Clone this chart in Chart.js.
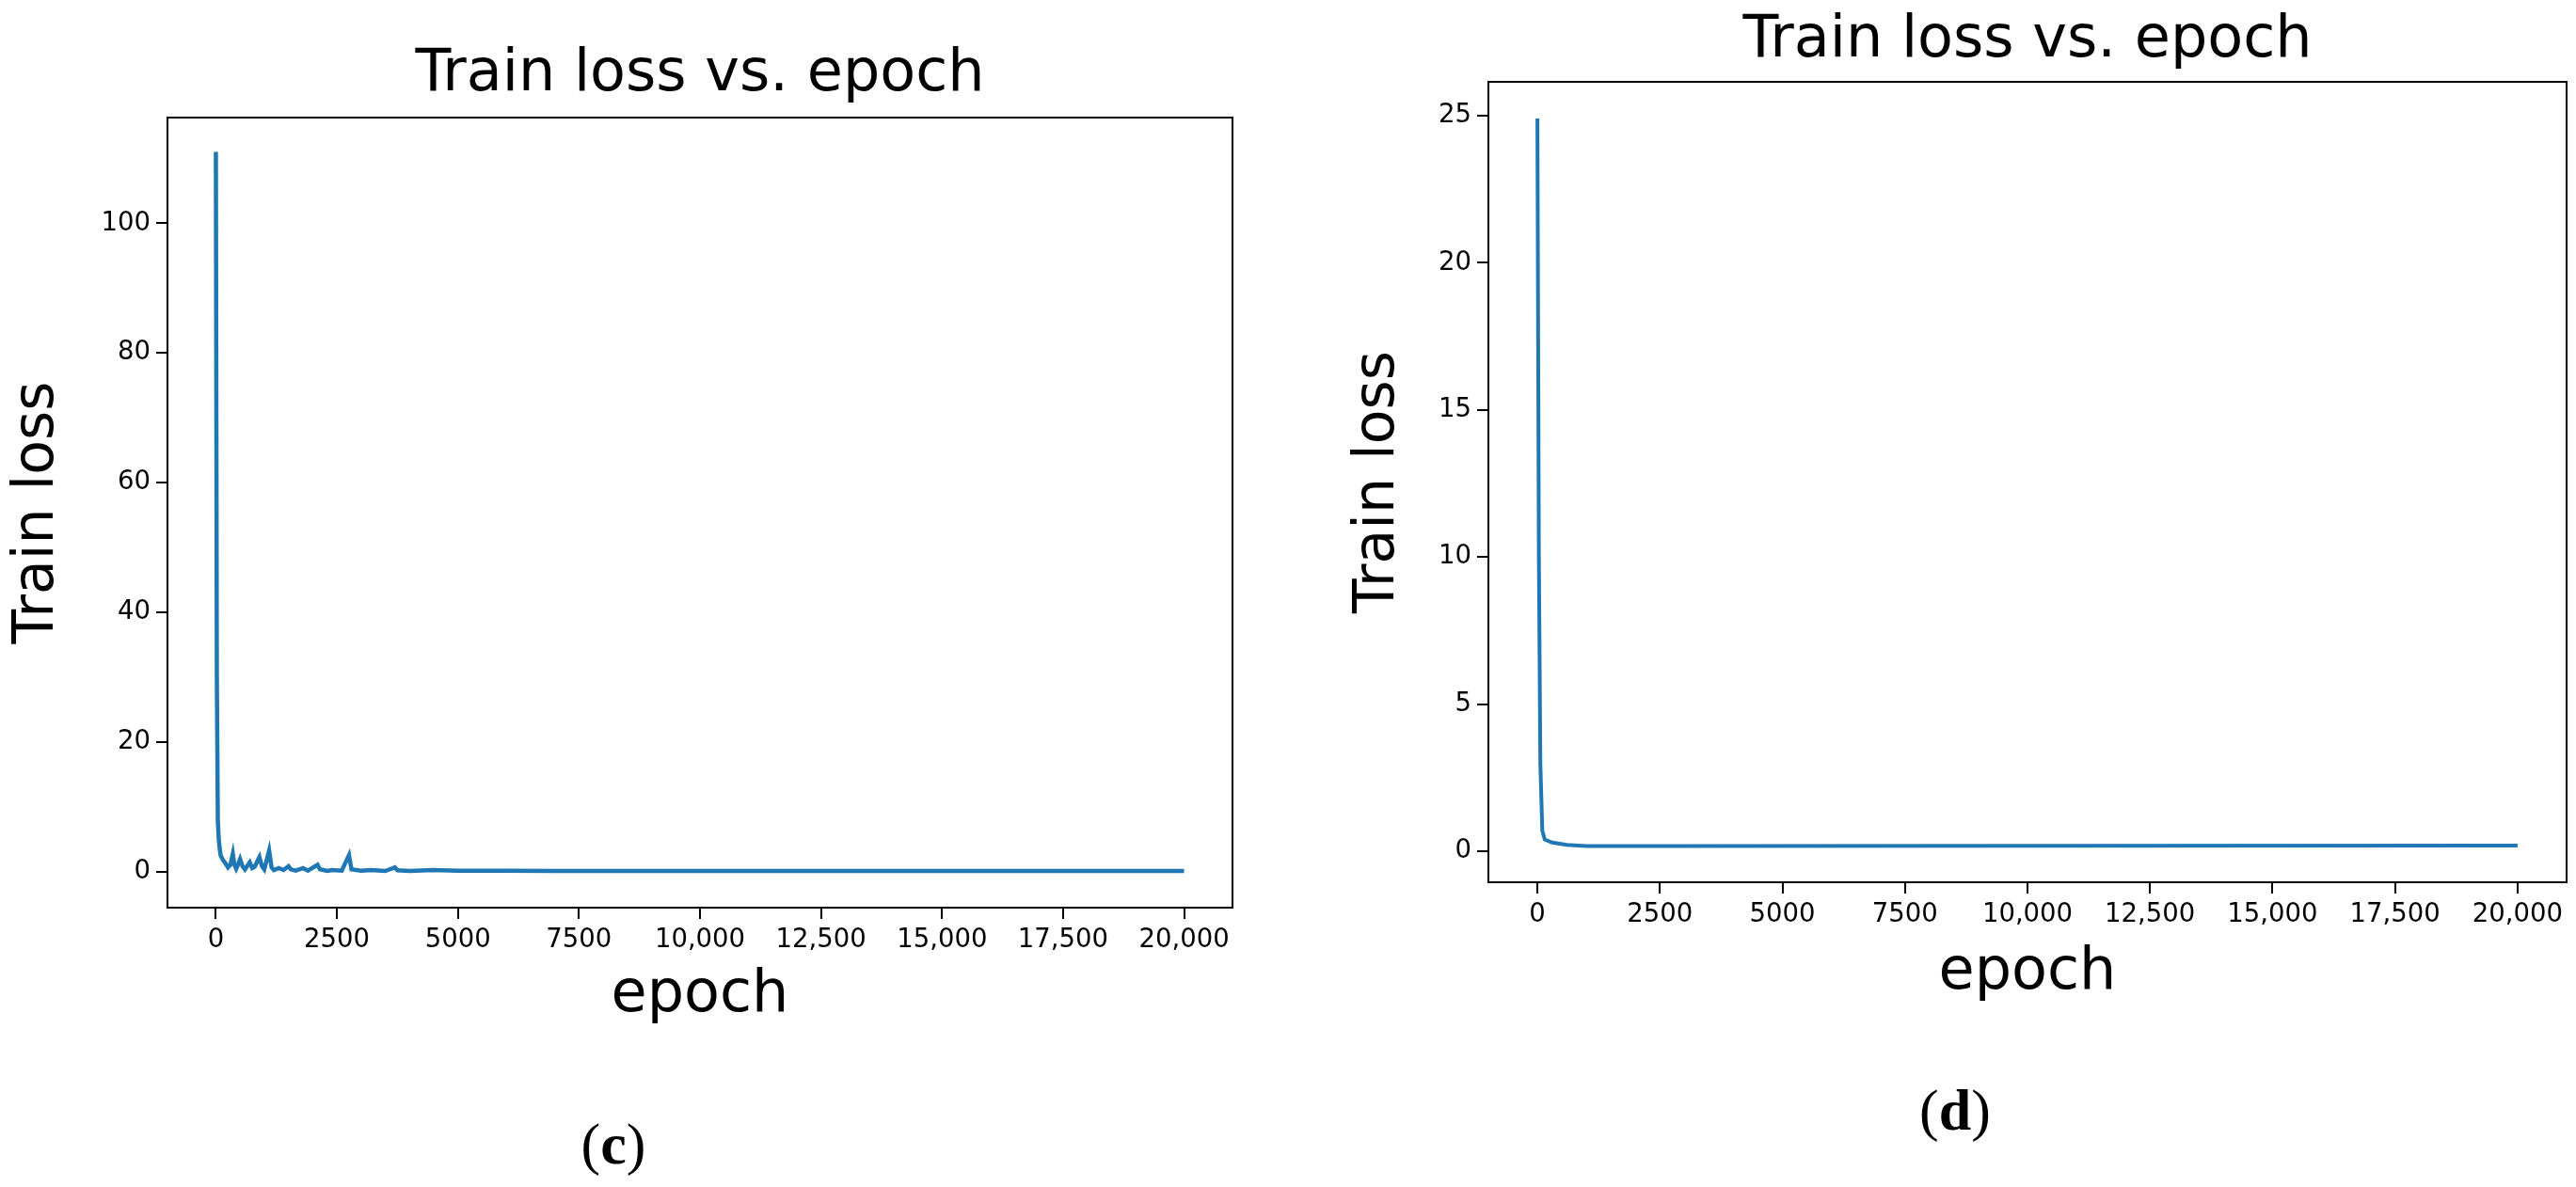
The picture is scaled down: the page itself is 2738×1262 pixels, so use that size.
<!DOCTYPE html>
<html><head><meta charset="utf-8">
<script src="https://cdn.jsdelivr.net/npm/chart.js@4"></script>
<style>
html,body{margin:0;padding:0;background:#fff;width:2738px;height:1262px;overflow:hidden;position:relative}
canvas{position:absolute;top:0}
.lab{position:absolute;font-family:"Liberation Serif","DejaVu Serif",serif;font-size:62px;transform:translate(-50%,-50%);color:#000;white-space:nowrap}
</style></head><body>
<canvas id="c1" width="1369" height="1262" style="left:0"></canvas>
<canvas id="c2" width="1438" height="1262" style="left:1300px"></canvas>
<div class="lab" style="left:652px;top:1216px">(<b>c</b>)</div>
<div class="lab" style="left:2078px;top:1180px">(<b>d</b>)</div>
<script>
const titleText = "Train loss vs. epoch";
const xLabel = "epoch";
const yLabel = "Train loss";
const xTickValues = [0,2500,5000,7500,10000,12500,15000,17500,20000];
const yTicksC = [0,20,40,60,80,100];
const yTicksD = [0,5,10,15,20,25];
const epochsC = [0,20,40,60,80,100,150,200,250,300,350,380,420,450,500,550,600,700,750,800,900,950,1000,1100,1150,1200,1300,1400,1500,1550,1650,1800,1900,2100,2150,2300,2400,2600,2750,2800,3000,3200,3500,3700,3750,4000,4500,5000,6000,7000,8000,12000,16000,20000];
const lossC   = [111,30,8,5,3.5,2.5,1.8,1.3,0.7,1.1,2.8,1.2,0.5,1.0,2.0,0.9,0.4,1.5,0.6,0.8,2.3,0.9,0.4,3.3,0.7,0.3,0.6,0.3,0.9,0.4,0.2,0.6,0.2,1.1,0.4,0.15,0.3,0.2,2.6,0.4,0.2,0.3,0.15,0.7,0.25,0.15,0.3,0.2,0.2,0.15,0.15,0.15,0.15,0.15];
const epochsD = [0,30,60,100,150,300,600,1000,3000,10000,20000];
const lossD   = [24.9,10,3,0.7,0.4,0.3,0.22,0.18,0.18,0.19,0.2];

const fam = '"DejaVu Sans", sans-serif';
const boxPlugin = {id:'box', afterDraw(ch){const a=ch.chartArea,c=ch.ctx;c.save();c.strokeStyle='#000';c.lineWidth=2;c.strokeRect(a.left,a.top,a.right-a.left,a.bottom-a.top);c.restore();}};
function fmt(v){return v>=10000 ? v.toLocaleString('en-US') : String(v);}
function make(id, xs, ys, yTicks, ymin, ymax, o){
  return new Chart(document.getElementById(id), {
    type:'line',
    data:{datasets:[{data:xs.map((x,i)=>({x:x,y:ys[i]})),borderColor:'#1f77b4',borderWidth:o.lw,pointRadius:0,tension:0,fill:false}]},
    plugins:[boxPlugin],
    options:{
      responsive:false, animation:false, devicePixelRatio:1,
      layout:{padding:{top:0,left:0,right:o.right,bottom:o.bottom}},
      plugins:{legend:{display:false},tooltip:{enabled:false},
        title:{display:true,fullSize:false,text:titleText,color:'#000',font:{family:fam,size:62,weight:'normal'},padding:{top:o.tpt,bottom:o.tpb}}},
      scales:{
        x:{type:'linear',min:-1000,max:21000,
          afterBuildTicks(s){s.ticks=xTickValues.map(v=>({value:v}));},
          afterFit(s){s.height=o.xh;},
          grid:{drawOnChartArea:false,drawTicks:true,tickLength:12,color:'#000',lineWidth:2},
          border:{display:false},
          ticks:{color:'#000',font:{family:fam,size:27.5},padding:6,maxRotation:0,autoSkip:false,callback:v=>fmt(v)},
          title:{display:true,text:xLabel,color:'#000',font:{family:fam,size:62},padding:{top:0,bottom:0}}},
        y:{min:ymin,max:ymax,
          afterBuildTicks(s){s.ticks=yTicks.map(v=>({value:v}));},
          afterFit(s){s.width=o.yw;},
          grid:{drawOnChartArea:false,drawTicks:true,tickLength:12,color:'#000',lineWidth:2},
          border:{display:false},
          ticks:{color:'#000',font:{family:fam,size:27.5},padding:6,callback:v=>String(v)},
          title:{display:true,text:yLabel,color:'#000',font:{family:fam,size:60},padding:{top:o.ytp,bottom:0}}}
      }
    }
  });
}
make('c1', epochsC, lossC, yTicksC, -5.5, 116.3, {right:59,bottom:166,tpt:43,tpb:7.6,xh:131,yw:178,ytp:4,lw:4.5});
make('c2', epochsD, lossD, yTicksD, -1.05, 26.15, {right:10,bottom:190,tpt:7,tpb:5.6,xh:134,yw:282,ytp:129,lw:4});
</script>
</body></html>
